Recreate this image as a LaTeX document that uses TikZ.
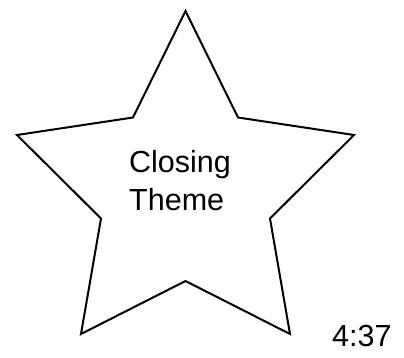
\documentclass[tikz,border=0pt]{standalone}
\usepackage{fontspec}
\setmainfont{Liberation Sans}
\tikzset{
  starline/.style={draw=black, line width=2pt, line join=miter, fill=white},
  lbl/.style={font=\fontsize{30.5}{38}\selectfont, inner sep=0pt, text=black},
}
\begin{document}
\begin{tikzpicture}[x=1pt,y=-1pt]
\useasboundingbox (0,0) rectangle (404,358);
\coordinate (p1) at (185.5,11);
\coordinate (q1) at (238,117.5);
\coordinate (p2) at (354,135);
\coordinate (q2) at (270,218.5);
\coordinate (p3) at (290,334);
\coordinate (q3) at (185.5,281);
\coordinate (p4) at (81,334);
\coordinate (q4) at (101,218.5);
\coordinate (p5) at (17,135);
\coordinate (q5) at (133,117.5);
\draw[starline] (p1) -- (q1) -- (p2) -- (q2) -- (p3) -- (q3) -- (p4) -- (q4) -- (p5) -- (q5) -- cycle;
\node[lbl, anchor=base west, align=left] (title) at (129,210.7) {Closing\\Theme};
\node[lbl, anchor=base west] (time) at (332,346.7) {4:37};
\end{tikzpicture}
\end{document}
